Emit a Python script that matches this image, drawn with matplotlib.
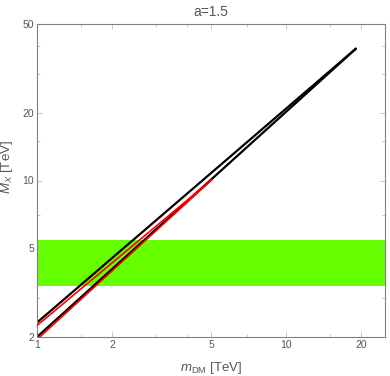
import matplotlib
matplotlib.use("Agg")
import matplotlib.pyplot as plt
from matplotlib.ticker import FixedLocator, NullFormatter

plt.rcParams['font.family'] = ['Liberation Sans', 'DejaVu Sans']
plt.rcParams['mathtext.fontset'] = 'custom'
plt.rcParams['mathtext.rm'] = 'Liberation Sans'
plt.rcParams['mathtext.it'] = 'Liberation Sans:italic'

# data
title = "a=1.5"
band_low, band_high = 3.38, 5.42
black_upper_x = [1.0, 19.2]
black_upper_y = [2.32, 39.0]
black_lower_x = [1.0, 19.2]
black_lower_y = [2.0, 39.0]
red_upper_x = [1.0, 5.05]
red_upper_y = [2.25, 10.1]
red_lower_x = [1.0, 5.05]
red_lower_y = [1.95, 10.1]
x_major = [1, 2, 5, 10, 20]
x_minor = [1.5, 3, 4, 7, 15]
y_major = [2, 5, 10, 20, 50]
y_minor = [3, 7, 15, 30, 40]

gray = '#808080'
tcol = '#555555'

fig = plt.figure(figsize=(3.9, 3.76), dpi=100)
ax = fig.add_axes([37/390, 1-337/376, (385-37)/390, (337-24)/376])
ax.set_xscale('log')
ax.set_yscale('log')
ax.set_xlim(1, 25)
ax.set_ylim(2, 50)

ax.axhspan(band_low, band_high, color='#66ff00', lw=0, zorder=1)
ax.plot(black_upper_x, black_upper_y, color='black', lw=1.6, zorder=2, solid_capstyle='butt')
ax.plot(black_lower_x, black_lower_y, color='black', lw=1.6, zorder=2, solid_capstyle='butt')
ax.plot(red_upper_x, red_upper_y, color='#ff0000', lw=1.2, zorder=3, solid_capstyle='butt')
ax.plot(red_lower_x, red_lower_y, color='#ff0000', lw=1.2, zorder=3, solid_capstyle='butt')

ax.xaxis.set_major_locator(FixedLocator(x_major))
ax.xaxis.set_minor_locator(FixedLocator(x_minor))
ax.yaxis.set_major_locator(FixedLocator(y_major))
ax.yaxis.set_minor_locator(FixedLocator(y_minor))
ax.set_xticklabels([str(v) for v in x_major])
ax.set_yticklabels([str(v) for v in y_major])
ax.xaxis.set_minor_formatter(NullFormatter())
ax.yaxis.set_minor_formatter(NullFormatter())

for s in ax.spines.values():
    s.set_color(gray)
    s.set_linewidth(0.8)
ax.tick_params(which='both', direction='in', top=True, right=True, color='#bbbbbb', width=0.6)
ax.tick_params(which='major', length=3.5, labelsize=7.5, labelcolor=tcol, pad=2)
ax.tick_params(which='minor', length=2)

ax.set_xlabel(r'$m_{\mathrm{DM}}$ [TeV]', fontsize=9.5, color=tcol)
ax.set_ylabel(r'$M_X$ [TeV]', fontsize=9.5, color=tcol)
ax.xaxis.set_label_coords(0.5, -0.072)
ax.yaxis.set_label_coords(-0.062, 0.543)
ax.set_title(title, fontsize=10, color=tcol, pad=6)

fig.savefig('out.png', dpi=100)
